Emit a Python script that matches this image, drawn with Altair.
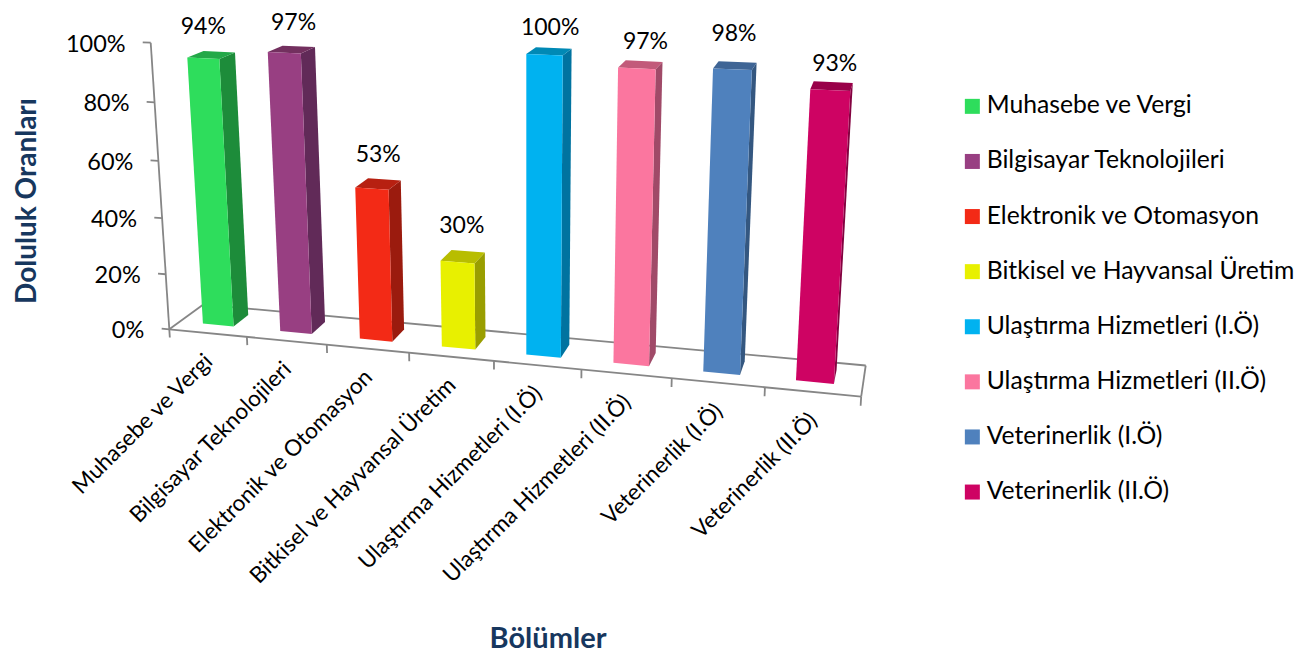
import altair as alt
import pandas as pd

categories = ["Muhasebe ve Vergi", "Bilgisayar Teknolojileri", "Elektronik ve Otomasyon",
              "Bitkisel ve Hayvansal Üretim", "Ulaştırma Hizmetleri (I.Ö)",
              "Ulaştırma Hizmetleri (II.Ö)", "Veterinerlik (I.Ö)", "Veterinerlik (II.Ö)"]
values = [0.94, 0.97, 0.53, 0.30, 1.00, 0.97, 0.98, 0.93]
front_colors = ["#2EDD5C", "#983F82", "#F32A16", "#E8F000", "#00B2F0", "#FB769F", "#4F81BD", "#CE0363"]
side_colors = ["#1D8C3A", "#612A58", "#9B1B0E", "#999E00", "#0073A0", "#A04A68", "#345780", "#830240"]
top_colors = ["#23A848", "#73305F", "#B72011", "#B8BD00", "#0089B5", "#C25A7A", "#3F6595", "#990049"]
y_ticks = [0.0, 0.2, 0.4, 0.6, 0.8, 1.0]
label_nudge = [(-8, -28), (2, -27), (0, -29), (-1, -31), (1, -23), (5, -23), (-1, -32), (3, -22)]

FONT = "Lato"
AXIS_COLOR = "#868686"
TITLE_COLOR = "#17375E"
BAR_W, Z0, Z1 = 0.40, 0.31, 0.77


def project(cat, val, depth):
    """Perspective camera: category position, value, depth -> picture position."""
    nx = 169.3 + 74.0 * cat - 26.03 * val + 43.2 * depth
    ny = 329.3 + 2.67 * cat - 288.7 * val - 11.0 * depth
    w = 1 - 0.0145 * cat - 0.0494 * val + 0.0453 * depth
    return nx / w, ny / w


faces = []
for i, (name, v) in enumerate(zip(categories, values)):
    a, b = i + 0.5 - BAR_W / 2, i + 0.5 + BAR_W / 2
    shapes = {
        "side": ([(b, 0, Z0), (b, 0, Z1), (b, v, Z1), (b, v, Z0)], side_colors[i]),
        "top": ([(a, v, Z0), (b, v, Z0), (b, v, Z1), (a, v, Z1)], top_colors[i]),
        "front": ([(a, 0, Z0), (b, 0, Z0), (b, v, Z0), (a, v, Z0)], front_colors[i]),
    }
    for face, (pts, col) in shapes.items():
        for k, p in enumerate(pts):
            px, py = project(*p)
            faces.append(dict(key=f"{i}{face}", name=name, face=face, k=k, x=px, y=py, col=col))
faces = pd.DataFrame(faces)

segs = []
def seg(p, q):
    x, y = project(*p)
    x2, y2 = project(*q)
    segs.append(dict(x=x, y=y, x2=x2, y2=y2))

n = len(categories)
seg((0, 0, 0), (0, 1, 0))
seg((0, 0, 0), (n, 0, 0))
seg((0, 0, 0), (0, 0, 1))
seg((0, 0, 1), (n, 0, 1))
seg((n, 0, 0), (n, 0, 1))
for t in y_ticks:
    seg((0, t, 0), (-0.1, t, 0))
for c in range(n + 1):
    seg((c, 0, 0), (c, -0.03, 0))
segs = pd.DataFrame(segs)

val_labels = []
for i, v in enumerate(values):
    px, py = project(i + 0.5, v, (Z0 + Z1) / 2)
    val_labels.append(dict(x=px + label_nudge[i][0], y=py + label_nudge[i][1], t=f"{round(v * 100)}%"))
val_labels = pd.DataFrame(val_labels)

tick_labels = []
for t in y_ticks:
    px, py = project(0, t, 0)
    tick_labels.append(dict(x=px - 25, y=py + 2, t=f"{round(t * 100)}%"))
tick_labels = pd.DataFrame(tick_labels)

cat_labels = []
for i, name in enumerate(categories):
    px, py = project(i + 0.5, 0, 0)
    cat_labels.append(dict(x=px + 1, y=py + 25, t=name))
cat_labels = pd.DataFrame(cat_labels)

X = alt.X("x:Q", scale=alt.Scale(domain=[8, 1298], nice=False, zero=False), axis=None)
Y = alt.Y("y:Q", scale=alt.Scale(domain=[653, 8], nice=False, zero=False), axis=None)

rules = alt.Chart(segs).mark_rule(color=AXIS_COLOR, strokeWidth=1.8).encode(X, Y, x2="x2:Q", y2="y2:Q")

shade = alt.Chart(faces[faces.face != "front"]).mark_line(
    interpolate="linear-closed", strokeWidth=0
).encode(X, Y, order="k:Q", detail="key:N", fill=alt.Fill("col:N", scale=None, legend=None))

front = alt.Chart(faces[faces.face == "front"]).mark_line(
    interpolate="linear-closed", strokeWidth=0
).encode(
    X, Y, order="k:Q",
    fill=alt.Fill(
        "name:N",
        scale=alt.Scale(domain=categories, range=front_colors),
        sort=categories,
        legend=alt.Legend(
            title=None, orient="none", legendX=952, legendY=86, symbolType="square",
            symbolSize=225, symbolStrokeWidth=0, labelFont=FONT, labelFontSize=24.7,
            labelColor="#000000", rowPadding=29.1, labelOffset=2, labelLimit=400,
        ),
    ),
)

val_text = alt.Chart(val_labels).mark_text(font=FONT, fontSize=23, color="#000000").encode(X, Y, text="t:N")
tick_text = alt.Chart(tick_labels).mark_text(font=FONT, fontSize=23.5, color="#000000", align="right").encode(X, Y, text="t:N")
cat_text = alt.Chart(cat_labels).mark_text(
    font=FONT, fontSize=22.5, color="#000000", align="right", baseline="middle", angle=315
).encode(X, Y, text="t:N")

y_title = alt.Chart(pd.DataFrame([dict(x=28, y=201, t="Doluluk Oranları")])).mark_text(
    font=FONT, fontSize=28, fontWeight="bold", color=TITLE_COLOR, angle=270
).encode(X, Y, text="t:N")
x_title = alt.Chart(pd.DataFrame([dict(x=548, y=639, t="Bölümler")])).mark_text(
    font=FONT, fontSize=29, fontWeight="bold", color=TITLE_COLOR
).encode(X, Y, text="t:N")

chart = alt.layer(rules, shade, front, val_text, tick_text, cat_text, y_title, x_title).resolve_scale(
    fill="independent"
).properties(
    width=1290, height=645, padding=0, autosize=alt.AutoSizeParams(type="none")
).configure_view(stroke=None)

chart.save("out.html", embed_options={"renderer": "svg", "actions": False})
